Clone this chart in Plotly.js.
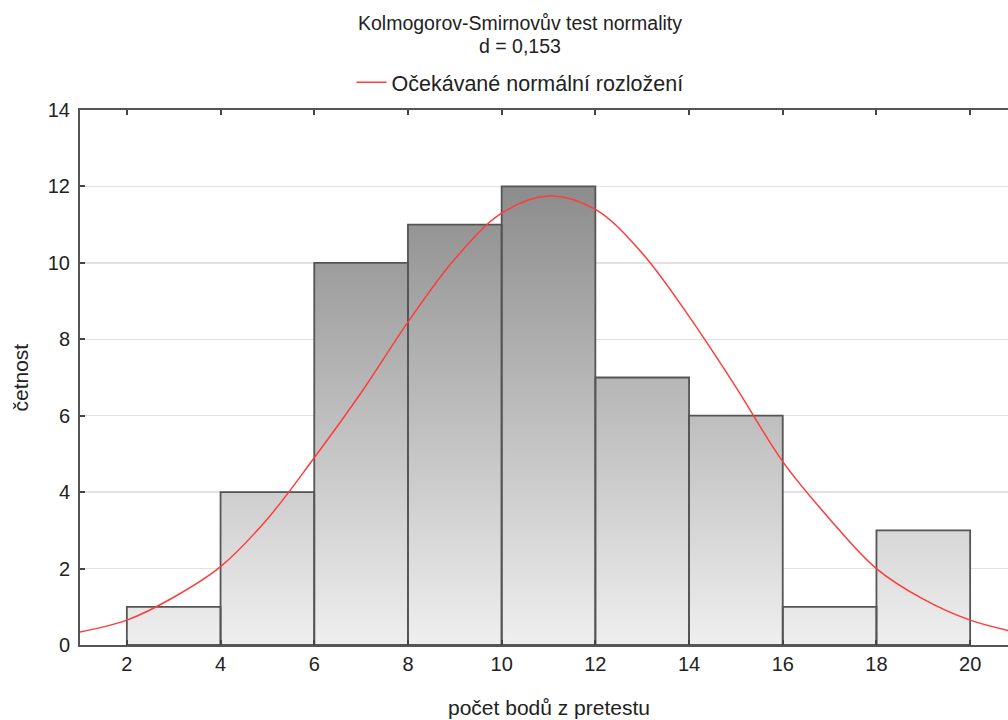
<!DOCTYPE html>
<html>
<head>
<meta charset="utf-8">
<script src="https://cdn.plot.ly/plotly-3.0.1.min.js"></script>
<style>
html,body{margin:0;padding:0;overflow:hidden;background:#fff;}
#chart{width:1030px;height:720px;}
</style>
</head>
<body>
<div id="chart"></div>
<script>
// Histogram bins (lower edges) and counts
const binStart = [2, 4, 6, 8, 10, 12, 14, 16, 18];
const binWidth = 2;
const counts = [1, 4, 10, 11, 12, 7, 6, 1, 3];

// Expected normal curve
const curveX = [1, 2, 3, 4, 5, 6, 7, 8, 9, 10, 11, 12, 13, 14, 15, 16, 17, 18, 19, 20, 21];
const curveY = [0.34, 0.65, 1.25, 2.05, 3.3, 4.9, 6.6, 8.45, 10.1, 11.3, 11.75, 11.4, 10.25, 8.6, 6.75, 4.8, 3.3, 2.0, 1.2, 0.65, 0.33];

const xTicks = [2, 4, 6, 8, 10, 12, 14, 16, 18, 20];
const yTicks = [0, 2, 4, 6, 8, 10, 12, 14];

const titleLine1 = 'Kolmogorov-Smirnovův test normality';
const titleLine2 = 'd = 0,153';
const curveName = 'Očekávané normální rozložení';
const xTitle = 'počet bodů z pretestu';
const yTitle = 'četnost';

// step outline for gradient fill
const stepX = binStart.concat([binStart[binStart.length - 1] + binWidth]);
const stepY = counts.concat([counts[counts.length - 1]]);

// bar rectangles outlines built from the bins
const outX = [], outY = [];
binStart.forEach((b, i) => {
  const e = b + binWidth;
  outX.push(b, b, e, e, b, null);
  outY.push(0, counts[i], counts[i], 0, 0, null);
});

const FONT = 'Liberation Sans, Arial, sans-serif';
const TXT = '#222222';

const traces = [
  {
    type: 'scatter', x: stepX, y: stepY, mode: 'lines',
    line: {shape: 'hv', width: 0, color: 'rgba(0,0,0,0)'},
    fill: 'tozeroy',
    fillgradient: {type: 'vertical', start: 0, stop: 12,
      colorscale: [[0, '#efefef'], [1, '#8c8c8c']]},
    showlegend: false, hoverinfo: 'skip'
  },
  {
    type: 'scatter', x: outX, y: outY, mode: 'lines',
    line: {color: '#555555', width: 1.8},
    connectgaps: false, showlegend: false, hoverinfo: 'skip'
  },
  {
    type: 'scatter', x: curveX, y: curveY, mode: 'lines', name: curveName,
    line: {color: '#ff3b3b', width: 1.5, shape: 'spline'},
    showlegend: true
  }
];

const layout = {
  width: 1030, height: 720, autosize: false,
  margin: {l: 80, r: 13, t: 110, b: 75},
  paper_bgcolor: '#ffffff', plot_bgcolor: '#ffffff',
  font: {family: FONT, size: 20, color: TXT},
  showlegend: true,
  legend: {
    orientation: 'h', x: 0.4696, xanchor: 'center',
    y: 1.052, yanchor: 'middle',
    font: {family: FONT, size: 21.5, color: TXT},
    bgcolor: 'rgba(0,0,0,0)'
  },
  xaxis: {
    range: [1, 21], tickvals: xTicks, ticktext: xTicks.map(String),
    ticks: 'inside', ticklen: 5, tickcolor: '#444444', tickwidth: 2,
    showline: true, linecolor: '#555555', linewidth: 2, mirror: 'ticks',
    showgrid: false, zeroline: false, automargin: false,
    tickfont: {family: FONT, size: 20, color: TXT}
  },
  yaxis: {
    range: [0, 14], tickvals: yTicks, ticktext: yTicks.map(String),
    ticks: 'inside', ticklen: 5, tickcolor: '#444444', tickwidth: 2,
    showline: true, linecolor: '#555555', linewidth: 2, mirror: 'ticks',
    showgrid: true, gridcolor: '#e2e2e2', gridwidth: 1.5, zeroline: false,
    automargin: false,
    tickfont: {family: FONT, size: 20, color: TXT},
    ticklabelstandoff: 4
  },
  annotations: [
    {text: titleLine1, xref: 'paper', yref: 'paper', x: 0.4696, y: 1.1617,
     xanchor: 'center', yanchor: 'middle', showarrow: false,
     font: {family: FONT, size: 19.5, color: TXT}},
    {text: titleLine2, xref: 'paper', yref: 'paper', x: 0.4696, y: 1.1187,
     xanchor: 'center', yanchor: 'middle', showarrow: false,
     font: {family: FONT, size: 19.5, color: TXT}},
    {text: xTitle, xref: 'paper', yref: 'paper', x: 0.5, y: -0.1159,
     xanchor: 'center', yanchor: 'middle', showarrow: false,
     font: {family: FONT, size: 21, color: TXT}},
    {text: yTitle, xref: 'paper', yref: 'paper', x: -0.064, y: 0.5,
     xanchor: 'center', yanchor: 'middle', textangle: -90, showarrow: false,
     font: {family: FONT, size: 21, color: TXT}}
  ]
};

Plotly.newPlot('chart', traces, layout, {displayModeBar: false, staticPlot: true});
</script>
</body>
</html>
